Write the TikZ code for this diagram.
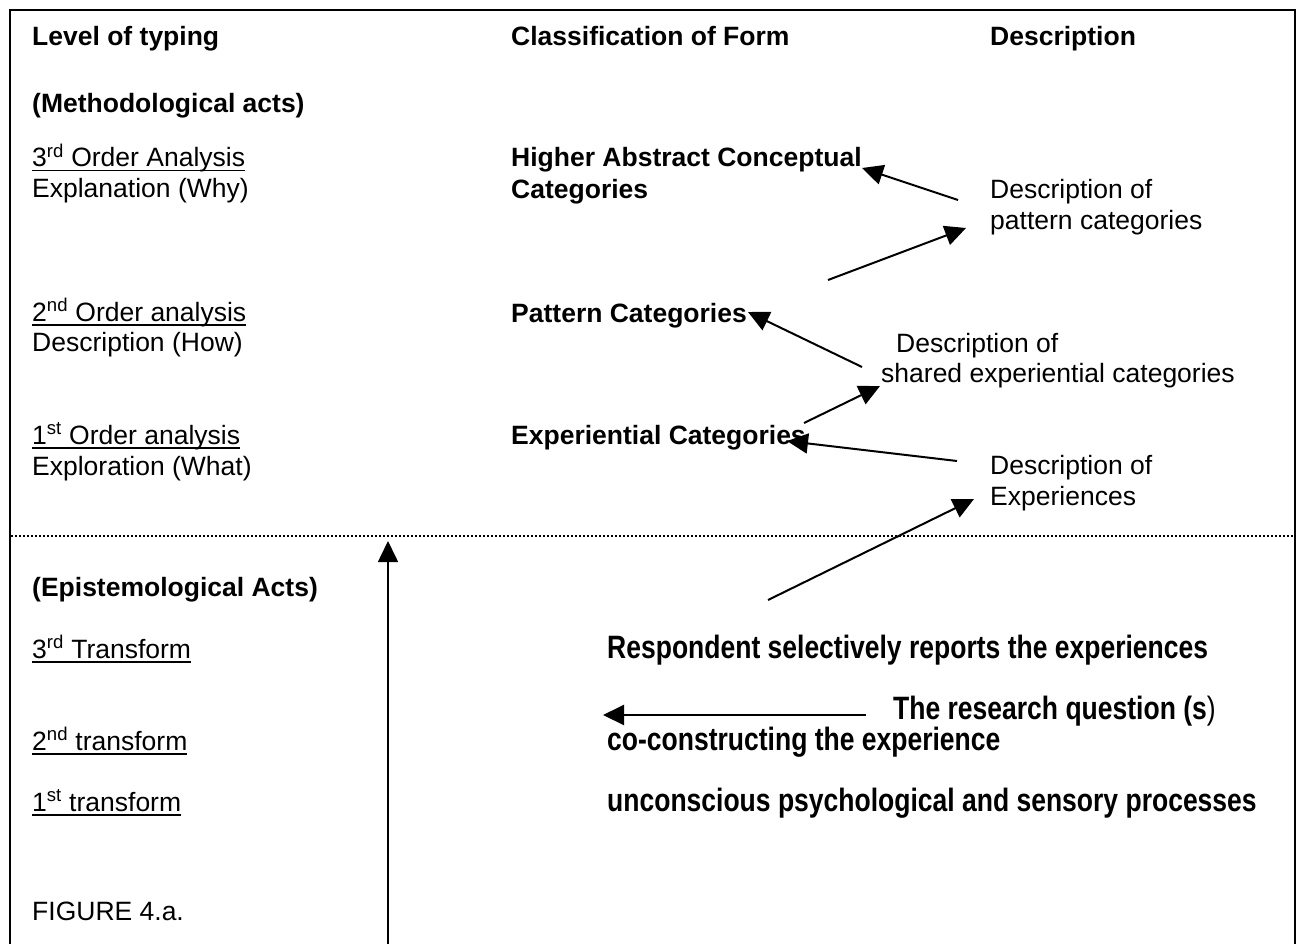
\documentclass[tikz,border=0pt]{standalone}
\usepackage{fontspec}
\usepackage{graphicx}
\setmainfont{Liberation Sans}
\usetikzlibrary{arrows.meta}
\newcommand\ulx[1]{\setbox0\hbox{#1}\rlap{\rule[-4.5pt]{\wd0}{1.8pt}}\box0\relax}
\newcommand\sups[1]{\textsuperscript{#1}}
\newcommand\tall[1]{\scalebox{1}[1.22]{#1}}
\begin{document}
\begin{tikzpicture}[x=1pt,y=-1pt,
  txt/.style={anchor=base west,inner sep=0pt,font=\fontsize{26.5}{30}\selectfont},
  bld/.style={txt,font=\fontsize{26.5}{30}\selectfont\bfseries},
  arr/.style={line width=2pt,-{Triangle[length=21pt,width=20pt]}},
  frame/.style={line width=2pt},
  divider/.style={line width=1.5pt,dash pattern=on 2pt off 2pt}]
\useasboundingbox (0,0) rectangle (1297,944);
\fill[white] (0,0) rectangle (1297,944);
% frame
\coordinate (fbl) at (10,944);
\coordinate (ftl) at (10,10);
\coordinate (ftr) at (1295,10);
\coordinate (fbr) at (1295,944);
\draw[frame] (fbl) -- (ftl) -- (ftr) -- (fbr);
% divider
\coordinate (dl) at (11,536);
\coordinate (dr) at (1294,536);
\draw[divider] (dl) -- (dr);
% headings
\node[bld] (h1) at (32,46) {Level of typing};
\node[bld] (h2) at (511,46) {Classification of Form};
\node[bld] (h3) at (990,46) {Description};
\node[bld] (meth) at (32,113) {(Methodological acts)};
% left column
\node[txt] (o3) at (32,167) {\ulx{3}\ulx{\sups{rd} Order Analysis}};
\node[txt] (o3b) at (32,197) {Explanation (Why)};
\node[txt] (o2) at (32,321) {\ulx{2}\ulx{\sups{nd} Order analysis}};
\node[txt] (o2b) at (32,351) {Description (How)};
\node[txt] (o1) at (32,444) {\ulx{1}\ulx{\sups{st} Order analysis}};
\node[txt] (o1b) at (32,475) {Exploration (What)};
% middle column
\node[bld] (hac) at (511,167) {Higher Abstract Conceptual};
\node[bld] (hac2) at (511,198) {Categories};
\node[bld] (pc) at (511,322) {Pattern Categories};
\node[bld] (ec) at (511,444) {Experiential Categories};
% right column
\node[txt] (dp1) at (990,198) {Description of};
\node[txt] (dp2) at (990,229) {pattern categories};
\node[txt] (ds1) at (896,352) {Description of};
\node[txt] (ds2) at (881,382) {shared experiential categories};
\node[txt] (de1) at (990,474) {Description of};
\node[txt] (de2) at (990,505) {Experiences};
% lower part
\node[bld] (epi) at (32,596) {(Epistemological Acts)};
\node[txt] (t3) at (32,658) {\ulx{3}\ulx{\sups{rd} Transform}};
\node[txt] (t2) at (32,750) {\ulx{2}\ulx{\sups{nd} transform}};
\node[txt] (t1) at (32,811) {\ulx{1}\ulx{\sups{st} transform}};
\node[txt] (fig) at (32,920) {FIGURE 4.a.};
\node[bld] (resp) at (607,658) {\tall{Respondent selectively reports the experiences}};
\node[txt] (rq) at (893,719) {\tall{\bfseries The research question (s}\tall{)}};
\node[bld] (cc) at (607,750) {\tall{co-constructing the experience}};
\node[bld] (uc) at (607,811) {\tall{unconscious psychological and sensory processes}};
% arrow end points
\coordinate (a1s) at (958,200); \coordinate (a1e) at (862,168);
\coordinate (a2s) at (828,280); \coordinate (a2e) at (966,228);
\coordinate (a3s) at (862,367); \coordinate (a3e) at (748,312);
\coordinate (a4s) at (804,423); \coordinate (a4e) at (880,386);
\coordinate (a5s) at (957,461); \coordinate (a5e) at (787,441);
\coordinate (a6s) at (768,600); \coordinate (a6e) at (974,499);
\coordinate (vs) at (388,944); \coordinate (ve) at (388,541);
\coordinate (hs) at (866,715); \coordinate (he) at (603,715);
\draw[arr] (a1s) -- (a1e);
\draw[arr] (a2s) -- (a2e);
\draw[arr] (a3s) -- (a3e);
\draw[arr] (a4s) -- (a4e);
\draw[arr] (a5s) -- (a5e);
\draw[arr] (a6s) -- (a6e);
\draw[arr,line width=1.6pt] (vs) -- (ve);
\draw[arr] (hs) -- (he);
\end{tikzpicture}
\end{document}
